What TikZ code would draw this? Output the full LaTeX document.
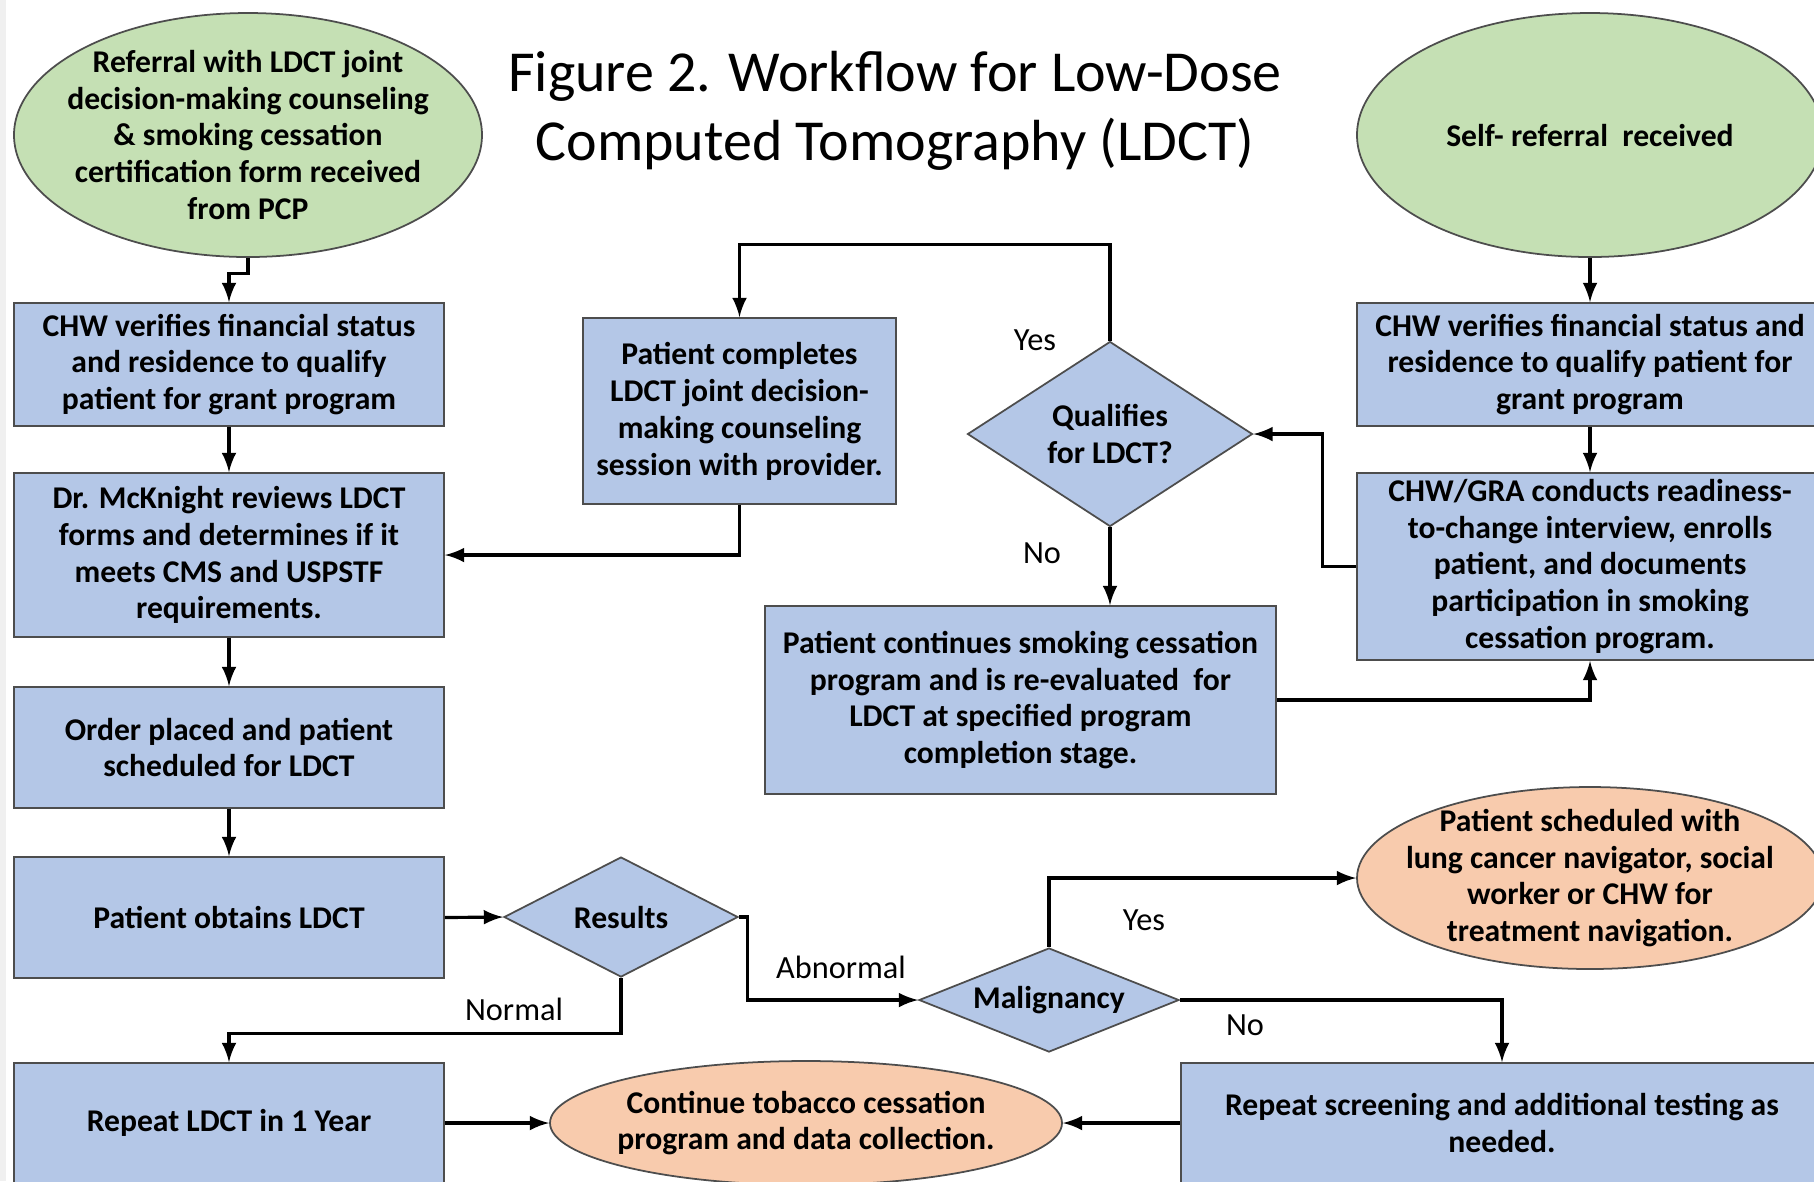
\documentclass[tikz,border=0pt]{standalone}
\usepackage{fontspec}
\setmainfont{Carlito}
\usetikzlibrary{shapes.geometric}

\definecolor{boxblue}{HTML}{B4C7E7}
\definecolor{termgreen}{HTML}{C5E0B4}
\definecolor{termorange}{HTML}{F8CBAD}
\definecolor{edgegray}{HTML}{4D4D4D}

\tikzset{
  txt/.style={font=\bfseries\fontsize{9}{10.5}\selectfont},
  box/.style={txt, rectangle, draw=edgegray, fill=boxblue, line width=0.5pt, align=center, inner sep=0pt},
  decision/.style={box, diamond},
  startend/.style={box, ellipse, fill=termgreen, inner sep=-3mm},
  outcome/.style={box, ellipse, fill=termorange, inner sep=-3mm},
  flow/.style={line width=0.9pt, -latex},
  lbl/.style={font=\fontsize{9.2}{10.5}\selectfont, inner sep=0pt}
}

\begin{document}
\begin{tikzpicture}[x=0.1mm,y=-0.1mm]

\useasboundingbox (0,0) rectangle (1814,1181);
\clip (0,0) rectangle (1814,1181);
\fill[black!6] (0,0) rectangle (6,1181);

\node[align=center, font=\fontsize{16.5}{19.6}\selectfont] (title) at (895,111) {Figure 2. Workflow for Low-Dose\\Computed Tomography (LDCT)};

\node[startend, minimum width=46.8mm, minimum height=24.4mm] (refL) at (248,135) {Referral with LDCT joint\\decision-making counseling\\\& smoking cessation\\certification form received\\from PCP};
\node[startend, minimum width=46.6mm, minimum height=24.4mm] (refR) at (1590,135) {Self- referral\ \ received};

\node[box, minimum width=43mm, minimum height=12.3mm] (chwL) at (229,364.5) {CHW verifies financial status\\and residence to qualify\\patient for grant program};
\node[box, minimum width=43mm, minimum height=16.4mm] (review) at (229,555) {Dr. McKnight reviews LDCT\\forms and determines if it\\meets CMS and USPSTF\\requirements.};
\node[box, minimum width=43mm, minimum height=12.1mm] (order) at (229,747.5) {Order placed and patient\\scheduled for LDCT};
\node[box, minimum width=43mm, minimum height=12.1mm] (obtain) at (229,917.5) {Patient obtains LDCT};
\node[box, minimum width=43mm, minimum height=12mm] (repeat) at (229,1123) {Repeat LDCT in 1 Year};

\node[box, minimum width=31.3mm, minimum height=18.6mm] (session) at (739.5,411) {Patient completes\\LDCT joint decision-\\making counseling\\session with provider.};
\node[decision, aspect=1.54, minimum width=28.5mm, minimum height=18.5mm] (qual) at (1110,434) {Qualifies\\for LDCT?};
\node[box, minimum width=51.1mm, minimum height=18.8mm] (cont) at (1020.5,700) {Patient continues smoking cessation\\program and is re-evaluated\ \ for\\LDCT at specified program\\completion stage.};

\node[box, minimum width=46.6mm, minimum height=12.3mm] (chwR) at (1590,364.5) {CHW verifies financial status and\\residence to qualify patient for\\grant program};
\node[box, minimum width=46.6mm, minimum height=18.7mm] (gra) at (1590,566.5) {CHW/GRA conducts readiness-\\to-change interview, enrolls\\patient, and documents\\participation in smoking\\cessation program.};

\node[decision, aspect=1.95, minimum width=23.4mm, minimum height=12mm] (results) at (621,917) {Results};
\node[decision, aspect=2.5, minimum width=26mm, minimum height=10.4mm] (malig) at (1049,1000) {Malignancy};
\node[outcome, minimum width=46.6mm, minimum height=18.2mm] (nav) at (1590,878) {Patient scheduled with\\lung cancer navigator, social\\worker or CHW for\\treatment navigation.};
\node[box, minimum width=64.2mm, minimum height=12mm] (screen) at (1502,1123) {Repeat screening and additional testing as\\needed.};
\node[outcome, minimum width=51.2mm, minimum height=12.4mm] (tobacco) at (806,1123) {Continue tobacco cessation\\program and data collection.};

\draw[flow] (refL.south) -- ++(0,16) -| (chwL.north);
\draw[flow] (chwL) -- (review);
\draw[flow] (review) -- (order);
\draw[flow] (order) -- (obtain);
\draw[flow] (refR) -- (chwR);
\draw[flow] (chwR) -- (gra);

\draw[flow] (gra.west) -- ++(-34,0) |- (qual.east);
\draw[flow] (qual.north) -- ++(0,-96) -| (session.north);
\draw[flow] (qual.south) -- (qual.south |- cont.north);
\draw[flow] (session.south) |- (review.east);
\draw[flow] (cont.east) -| (gra.south);

\draw[flow] (obtain.east) -- (results.west);
\draw[flow] (results.south) -- ++(0,56) -| (repeat.north);
\draw[flow] (results.east) -- ++(9,0) |- (malig.west);
\draw[flow] (malig.north) |- (nav.west);
\draw[flow] (malig.east) -| (screen.north);
\draw[flow] (repeat.east) -- (tobacco.west);
\draw[flow] (screen.west) -- (tobacco.east);

\node[lbl] (yesq) at (1035,340) {Yes};
\node[lbl] (noq) at (1042,553) {No};
\node[lbl] (normal) at (514,1009) {Normal};
\node[lbl] (abnormal) at (841,967) {Abnormal};
\node[lbl] (yesm) at (1144,920) {Yes};
\node[lbl] (nom) at (1245,1025) {No};

\end{tikzpicture}
\end{document}
